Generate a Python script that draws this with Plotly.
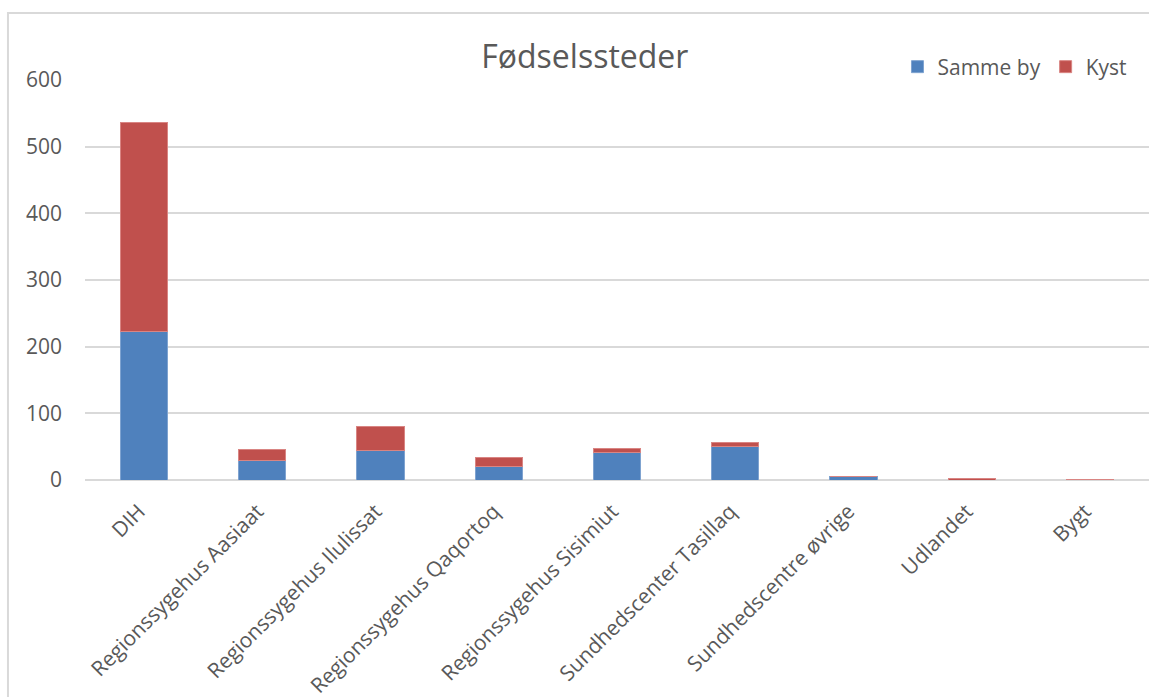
import plotly.graph_objects as go

categories = ["DIH", "Regionssygehus Aasiaat", "Regionssygehus Ilulissat", "Regionssygehus Qaqortoq",
              "Regionssygehus Sisimiut", "Sundhedscenter Tasillaq", "Sundhedscentre øvrige", "Udlandet", "Bygt"]
samme_by = [223, 30, 44, 20, 41, 50, 5, 0, 1]
kyst = [313, 16, 37, 14, 7, 7, 0, 2, 0]
y_ticks = [0, 100, 200, 300, 400, 500, 600]

FONT = "Open Sans"
GREY = "#595959"

fig = go.Figure()
fig.add_trace(go.Bar(x=categories, y=samme_by, name="Samme by", marker_color="#4F81BD",
                     marker_line=dict(color="#7FA3D0", width=1)))
fig.add_trace(go.Bar(x=categories, y=kyst, name="Kyst", marker_color="#C0504D",
                     marker_line=dict(color="#D98583", width=1)))

fig.update_layout(
    barmode="stack",
    bargap=0.6,
    width=1149, height=697,
    margin=dict(l=85, r=0, t=80, b=217, autoexpand=False),
    paper_bgcolor="white", plot_bgcolor="white",
    font=dict(family=FONT, color=GREY, size=18),
    title=dict(text="Fødselssteder", x=0.509, xanchor="center", y=0.918, yanchor="middle",
               font=dict(family=FONT, size=32, color=GREY)),
    legend=dict(orientation="h", x=0.7636, xanchor="left", y=1.0325, yanchor="middle",
                font=dict(family=FONT, size=21, color=GREY), bgcolor="rgba(0,0,0,0)",
                traceorder="normal", itemwidth=30),
    xaxis=dict(tickangle=-45, showgrid=False, showline=False, ticks="",
               ticklabelshift=-5, ticklabelstandoff=14,
               tickfont=dict(family=FONT, size=21, color=GREY)),
    yaxis=dict(range=[0, 600], tickvals=y_ticks, showgrid=True, gridcolor="#D9D9D9", gridwidth=2,
               zeroline=True, zerolinecolor="#D9D9D9", zerolinewidth=2, showline=False, ticks="",
               ticklabelstandoff=22, tickfont=dict(family=FONT, size=21, color=GREY)),
    shapes=[dict(type="rect", xref="paper", yref="paper", x0=-0.0724, x1=1.02, y0=-0.6, y1=1.1675,
                 line=dict(color="#D9D9D9", width=2), fillcolor="rgba(0,0,0,0)", layer="below")],
)

fig.write_html("out.html", config={"displayModeBar": False},
               post_script="document.body.style.margin='0';document.body.style.overflow='hidden';")
